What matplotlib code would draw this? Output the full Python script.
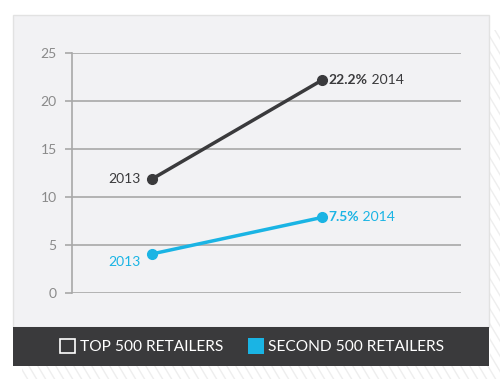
import matplotlib
matplotlib.use("Agg")
import matplotlib.pyplot as plt
from matplotlib.patches import Rectangle
from matplotlib.lines import Line2D

years = ["2013", "2014"]
top500 = [11.9, 22.2]
second500 = [4.1, 7.9]
top500_label = "22.2%"
second500_label = "7.5%"
yticks = [0, 5, 10, 15, 20, 25]
legend_labels = ["TOP 500 RETAILERS", "SECOND 500 RETAILERS"]

DARK = "#3a3a3c"
BLUE = "#1ab4e4"
PANEL = "#f2f2f4"
GRID = "#a8a8a8"
TICKC = "#8a8a8a"
FONT = "Lato"

W, H = 500, 379
fig = plt.figure(figsize=(W / 100, H / 100), dpi=100)
fig.patch.set_facecolor("white")

def fx(px):
    return px / W

def fy(py):
    return 1 - py / H

# diagonal stripes (right and bottom)
for k in range(-80, 80):
    x0 = k * 9.0
    fig.add_artist(Line2D([fx(x0), fx(x0 + 250)], [fy(0), fy(420)],
                          color="#eeeeee", lw=1.0, zorder=0, clip_on=False))
# cover stripes over the main area with white
fig.add_artist(Rectangle((0, fy(366)), fx(490), 1 - fy(366), transform=fig.transFigure,
                         facecolor="white", edgecolor="none", zorder=0.5))
fig.add_artist(Rectangle((0, fy(379)), fx(22), fy(366) - fy(379), transform=fig.transFigure,
                         facecolor="white", edgecolor="none", zorder=0.5))
fig.add_artist(Rectangle((fx(490), fy(30)), fx(10), 1 - fy(30), transform=fig.transFigure,
                         facecolor="white", edgecolor="none", zorder=0.5))

# panel
fig.add_artist(Rectangle((fx(13), fy(327)), fx(489) - fx(13), fy(15) - fy(327),
                         transform=fig.transFigure, facecolor=PANEL,
                         edgecolor="#e2e2e2", lw=1, zorder=1))
# footer
fig.add_artist(Rectangle((fx(13), fy(366)), fx(489) - fx(13), fy(327) - fy(366),
                         transform=fig.transFigure, facecolor=DARK,
                         edgecolor="none", zorder=1))

# axes: x from 72 to 461 px, y from 53 (25) to 293 (0)
ax = fig.add_axes([fx(72), fy(293.3), fx(461) - fx(72), fy(53.3) - fy(293.3)])
ax.set_zorder(2)
ax.patch.set_visible(False)
xs = [0, 1]
ax.set_xlim(-0.47, 1.818)
ax.set_ylim(0, 25)
ax.set_yticks(yticks)
ax.set_yticklabels([str(v) for v in yticks], fontfamily=FONT, fontsize=10, color=TICKC)
ax.set_xticks([])
for s in ["top", "right", "bottom"]:
    ax.spines[s].set_visible(False)
ax.spines["left"].set_color(GRID)
ax.spines["left"].set_linewidth(1.2)
ax.tick_params(axis="y", length=5, width=1.2, color=GRID, pad=6)
ax.grid(axis="y", color=GRID, lw=1.2)
ax.set_axisbelow(True)

ax.plot(xs, top500, color=DARK, lw=2.5, marker="o", ms=7, solid_capstyle="round", zorder=3)
ax.plot(xs, second500, color=BLUE, lw=2.5, marker="o", ms=7, solid_capstyle="round", zorder=3)

# labels
ax.annotate(years[0], (xs[0], top500[0]), xytext=(-8, 0), textcoords="offset points",
            ha="right", va="center", fontfamily=FONT, fontsize=10, color=DARK)
ax.annotate(years[0], (xs[0], second500[0]), xytext=(-8, -6), textcoords="offset points",
            ha="right", va="center", fontfamily=FONT, fontsize=10, color=BLUE)

def end_label(y, pct, color):
    t = ax.annotate(pct, (xs[1], y), xytext=(5, 0), textcoords="offset points",
                    ha="left", va="center", fontfamily=FONT, fontsize=10,
                    fontweight="bold", color=color)
    ax.annotate(" " + years[1], xy=(1, 0.5), xycoords=t, xytext=(0, 0),
                textcoords="offset points", ha="left", va="center",
                fontfamily=FONT, fontsize=10, color=color)

end_label(top500[1], top500_label, DARK)
end_label(second500[1], second500_label, BLUE)

# legend in footer
fig.add_artist(Rectangle((fx(59.5), fy(353)), fx(15), fy(339) - fy(353),
                         transform=fig.transFigure, facecolor="none",
                         edgecolor="white", lw=1.2, zorder=3))
fig.text(fx(80), fy(347), legend_labels[0], ha="left", va="center",
         fontfamily=FONT, fontsize=11.2, color="white", zorder=3)
fig.add_artist(Rectangle((fx(248), fy(353.5)), fx(16), fy(338) - fy(353.5),
                         transform=fig.transFigure, facecolor=BLUE,
                         edgecolor="none", zorder=3))
fig.text(fx(268), fy(347), legend_labels[1], ha="left", va="center",
         fontfamily=FONT, fontsize=11.2, color="white", zorder=3)

fig.savefig("out.png", dpi=100)
